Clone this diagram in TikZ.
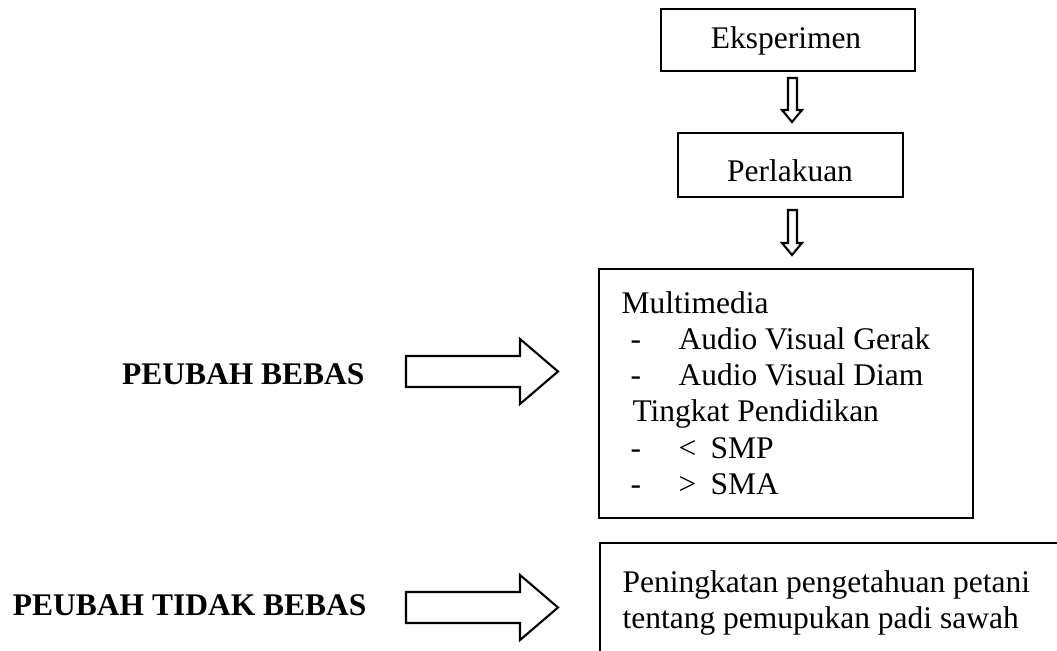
\documentclass[tikz,border=0pt]{standalone}
\usepackage{fontspec}
\setmainfont{Liberation Serif}
\newlength\pxu
\setlength\pxu{0.381pt}
\tikzset{
  boxline/.style={draw=black, line width=0.8pt},
  txt/.style={inner sep=0pt, anchor=base west, font=\fontsize{12pt}{13.8pt}\selectfont},
  ctxt/.style={inner sep=0pt, font=\fontsize{12pt}{13.8pt}\selectfont},
  lbl/.style={inner sep=0pt, anchor=base east, font=\fontsize{12pt}{13.8pt}\selectfont\bfseries},
  hollow/.style={draw=black, line width=0.8pt, fill=white, line join=miter},
}
\begin{document}
\begin{tikzpicture}[x=0.381pt, y=-0.381pt]
\path[use as bounding box] (0,0) rectangle (1057,651);

% top boxes
\node[boxline, minimum width=254*0.381pt, minimum height=62*0.381pt, inner sep=0pt] (eks) at (788,40) {};
\node[ctxt, anchor=base] (eksT) at (786,49) {Eksperimen};
\node[boxline, minimum width=225*0.381pt, minimum height=64*0.381pt, inner sep=0pt] (perl) at (790.5,165) {};
\node[ctxt, anchor=base] (perlT) at (790,182) {Perlakuan};

% big box
\node[boxline, minimum width=374*0.381pt, minimum height=249*0.381pt, inner sep=0pt] (mm) at (786,393.5) {};
\node[txt] (l1) at (621,314) {Multimedia};
\node[txt] (d2) at (630,350) {-};
\node[txt] (l2) at (678,350) {Audio Visual Gerak};
\node[txt] (d3) at (630,386) {-};
\node[txt] (l3) at (678,386) {Audio Visual Diam};
\node[txt] (l4) at (632,422) {Tingkat Pendidikan};
\node[txt] (d5) at (630,459) {-};
\node[txt] (l5a) at (678,459) {<};
\node[txt] (l5) at (710,459) {SMP};
\node[txt] (d6) at (630,495) {-};
\node[txt] (l6a) at (678,495) {>};
\node[txt] (l6) at (710,495) {SMA};

% bottom (cut) box
\coordinate (btl) at (600,543);
\draw[line width=0.8pt] (1057,543) -- (btl) -- (600,651);
\node[txt] (b1) at (622,592) {Peningkatan pengetahuan petani};
\node[txt] (b2) at (622,628) {tentang pemupukan padi sawah};

% labels
\node[lbl] (pb) at (365,385) {PEUBAH BEBAS};
\node[lbl] (ptb) at (367,615) {PEUBAH TIDAK BEBAS};

% hollow down arrows
\draw[hollow] (788,78) -- (797,78) -- (797,110) -- (802,110) -- (792,122) -- (782,110) -- (788,110) -- cycle;
\draw[hollow] (788,210) -- (797,210) -- (797,243) -- (802,243) -- (792,255) -- (782,243) -- (788,243) -- cycle;

% hollow right arrows
\draw[hollow] (406,356) -- (520,356) -- (520,339) -- (558,371.5) -- (520,404) -- (520,387) -- (406,387) -- cycle;
\draw[hollow] (406,592) -- (520,592) -- (520,575) -- (558,607.5) -- (520,640) -- (520,623) -- (406,623) -- cycle;
\end{tikzpicture}
\end{document}
